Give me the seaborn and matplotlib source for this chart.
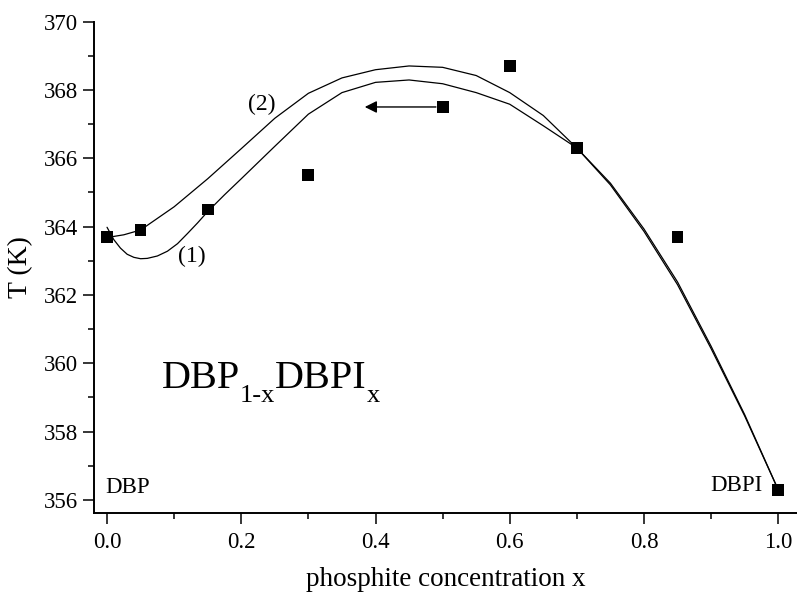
import matplotlib
matplotlib.use("Agg")
import matplotlib.pyplot as plt
import seaborn as sns

# measured points
conc = [0.0, 0.05, 0.15, 0.30, 0.50, 0.60, 0.70, 0.85, 1.0]
temp = [363.7, 363.9, 364.5, 365.5, 367.5, 368.7, 366.3, 363.7, 356.3]

# curve (2)
x2 = [0.0, 0.025, 0.05, 0.1, 0.15, 0.2, 0.25, 0.3, 0.35, 0.4, 0.45, 0.5,
      0.55, 0.6, 0.65, 0.7, 0.75, 0.8, 0.85, 0.9, 0.95, 1.0]
y2 = [363.68, 363.76, 363.90, 364.58, 365.40, 366.28, 367.17, 367.90, 368.35,
      368.59, 368.70, 368.66, 368.42, 367.92, 367.25, 366.30, 365.22, 363.86,
      362.30, 360.43, 358.46, 356.30]

# curve (1)
x1 = [0.0, 0.01, 0.02, 0.03, 0.04, 0.05, 0.06, 0.075, 0.09, 0.105, 0.12,
      0.135, 0.15, 0.175, 0.2, 0.25, 0.3, 0.35, 0.4, 0.45, 0.5, 0.55, 0.6,
      0.65, 0.7, 0.75, 0.8, 0.85, 0.9, 0.95, 1.0]
y1 = [363.98, 363.62, 363.37, 363.19, 363.10, 363.06, 363.07, 363.14, 363.28,
      363.50, 363.80, 364.11, 364.44, 364.93, 365.40, 366.35, 367.29, 367.92,
      368.22, 368.29, 368.18, 367.92, 367.58, 366.95, 366.30, 365.27, 363.93,
      362.38, 360.50, 358.50, 356.30]

# formula label pieces: (text, fontsize, baseline shift in points)
formula = [("DBP", 29, 0), ("1-x", 19, -9.6), ("DBPI", 29, 0), ("x", 19, -9.6)]

sns.set_style("ticks")
plt.rcParams["font.family"] = ["Liberation Serif", "DejaVu Serif"]
for key in ["text.color", "axes.labelcolor", "xtick.color", "ytick.color", "axes.edgecolor"]:
    plt.rcParams[key] = "black"

fig = plt.figure(figsize=(7.97, 5.93), dpi=100)
ax = fig.add_axes([0.1183, 0.1349, 0.8817, 0.8288])

sns.lineplot(x=x2, y=y2, ax=ax, color="black", linewidth=0.9, estimator=None, sort=False)
sns.lineplot(x=x1, y=y1, ax=ax, color="black", linewidth=0.9, estimator=None, sort=False)
sns.scatterplot(x=conc, y=temp, ax=ax, marker="s", s=72, color="black",
                edgecolor="none", zorder=5)

ax.annotate("", xy=(0.384, 367.5), xytext=(0.49, 367.5),
            arrowprops=dict(arrowstyle="-|>", color="black", lw=1.0,
                            mutation_scale=18, shrinkA=0, shrinkB=0))

ax.text(0.231, 367.57, "(2)", fontsize=17, ha="center", va="center")
ax.text(0.127, 363.12, "(1)", fontsize=17, ha="center", va="center")
ax.text(-0.003, 356.36, "DBP", fontsize=16.5, ha="left", va="center")
ax.text(0.976, 356.42, "DBPI", fontsize=16.5, ha="right", va="center")

ax.set_xlim(-0.019, 1.028)
ax.set_ylim(355.62, 370)
ax.set_xticks([0.0, 0.2, 0.4, 0.6, 0.8, 1.0])
ax.set_xticks([0.1, 0.3, 0.5, 0.7, 0.9], minor=True)
ax.set_yticks([356, 358, 360, 362, 364, 366, 368, 370])
ax.set_yticks([357, 359, 361, 363, 365, 367, 369], minor=True)
ax.set_xticklabels(["0.0", "0.2", "0.4", "0.6", "0.8", "1.0"])
ax.tick_params(which="major", direction="out", length=8, width=1.1, labelsize=16.5)
ax.tick_params(which="minor", direction="out", length=4, width=1.1)
ax.tick_params(axis="x", pad=6)
sns.despine(ax=ax)
for side in ["left", "bottom"]:
    ax.spines[side].set_linewidth(1.4)

ax.set_xlabel("phosphite concentration x", fontsize=19.5, labelpad=10)
ax.set_ylabel("T (K)", fontsize=20, labelpad=8)

# chemical formula with lowered subscripts, pieces placed one after another
fig.canvas.draw()
renderer = fig.canvas.get_renderer()
dx = 0.0
for piece, size, shift in formula:
    t = ax.annotate(piece, xy=(0.0815, 359.27), xytext=(dx, shift),
                    textcoords="offset points", fontsize=size,
                    ha="left", va="baseline")
    bb = t.get_window_extent(renderer)
    dx += bb.width * 72 / fig.dpi

fig.savefig("out.png", dpi=100)
